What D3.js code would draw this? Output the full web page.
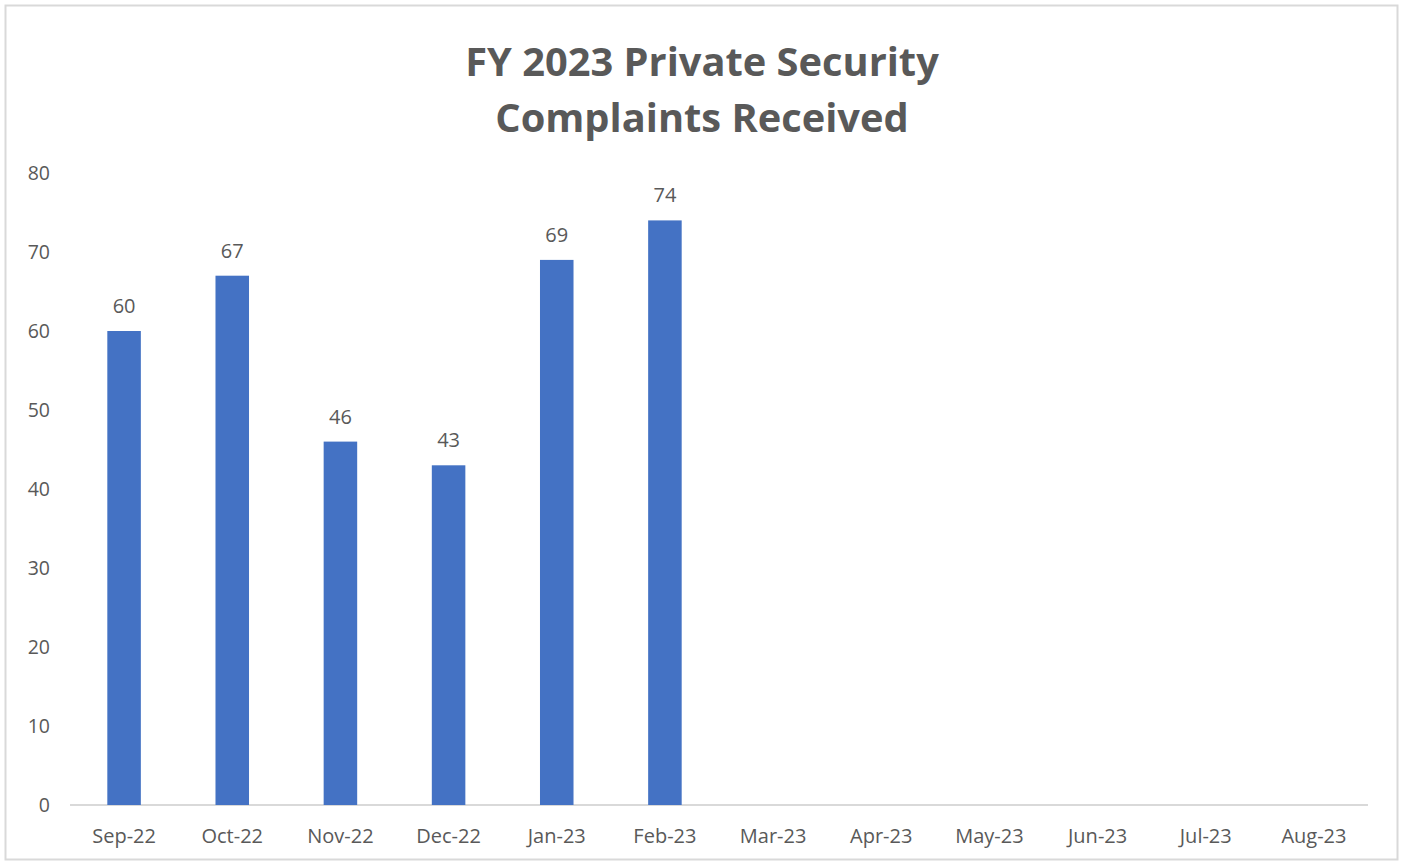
<!DOCTYPE html>
<html><head><meta charset="utf-8">
<script src="https://cdn.jsdelivr.net/npm/d3@7"></script>
<style>body{margin:0;background:#fff;font-family:"Open Sans","Liberation Sans",sans-serif;}</style>
</head><body>
<svg id="chart" width="1403" height="863"></svg>
<script>
const categories = ["Sep-22","Oct-22","Nov-22","Dec-22","Jan-23","Feb-23","Mar-23","Apr-23","May-23","Jun-23","Jul-23","Aug-23"];
const values = [60,67,46,43,69,74,null,null,null,null,null,null];
const yTicks = [0,10,20,30,40,50,60,70,80];
const titleLines = ["FY 2023 Private Security","Complaints Received"];

const svg = d3.select("#chart");
svg.append("rect").attr("x",5.5).attr("y",5.5).attr("width",1392).attr("height",854)
  .attr("fill","#fff").attr("stroke","#d9d9d9").attr("stroke-width",2);

const x = d3.scaleBand().domain(categories).range([70,1368]).paddingInner(0.69).paddingOuter(0.345);
const y = d3.scaleLinear().domain([0,80]).range([805,173]);

const textColor = "#595959";
svg.selectAll(".title").data(titleLines).join("text")
  .attr("x",702).attr("y",(d,i)=>76+i*56).attr("text-anchor","middle")
  .attr("font-size",39.8).attr("font-weight","bold").attr("fill",textColor)
  .text(d=>d);

const yAxis = svg.append("g").attr("transform","translate(50,0)")
  .call(d3.axisLeft(y).tickValues(yTicks).tickSize(0).tickPadding(0));
yAxis.select(".domain").remove();
yAxis.selectAll("text").attr("font-size",19.5).attr("fill",textColor)
  .attr("font-family","'Open Sans','Liberation Sans',sans-serif");

svg.append("line").attr("x1",70).attr("x2",1368).attr("y1",805).attr("y2",805)
  .attr("stroke","#d9d9d9").attr("stroke-width",2);

const xAxis = svg.append("g").attr("transform","translate(0,805)")
  .call(d3.axisBottom(x).tickSize(0).tickPadding(24));
xAxis.select(".domain").remove();
xAxis.selectAll("text").attr("font-size",20).attr("fill",textColor)
  .attr("font-family","'Open Sans','Liberation Sans',sans-serif");

const data = categories.map((c,i)=>({c,v:values[i]})).filter(d=>d.v!=null);
svg.selectAll(".bar").data(data).join("rect")
  .attr("x",d=>x(d.c)).attr("width",x.bandwidth())
  .attr("y",d=>y(d.v)).attr("height",d=>y(0)-y(d.v))
  .attr("fill","#4472C4");

svg.selectAll(".lbl").data(data).join("text")
  .attr("x",d=>x(d.c)+x.bandwidth()/2).attr("y",d=>y(d.v)-18)
  .attr("text-anchor","middle").attr("font-size",20).attr("fill",textColor)
  .text(d=>d.v);
</script>
</body></html>
